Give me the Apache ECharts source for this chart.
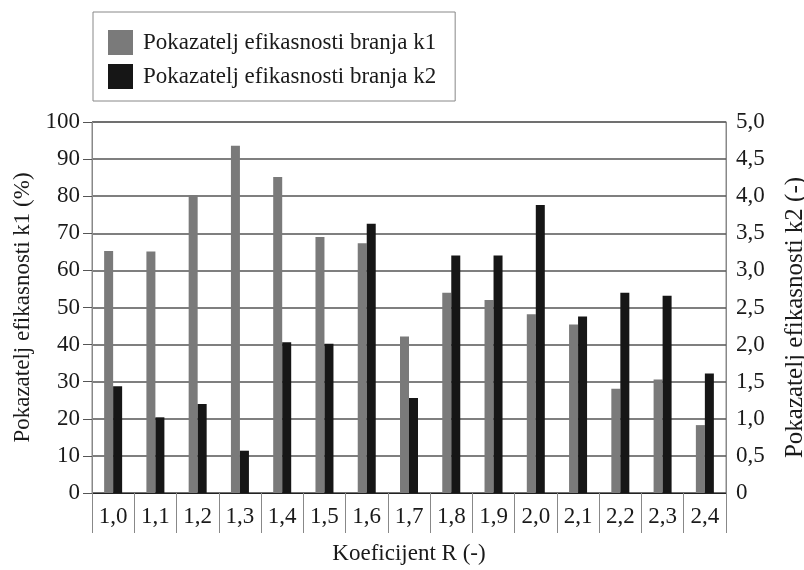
<!DOCTYPE html>
<html>
<head>
<meta charset="utf-8">
<script src="https://cdn.jsdelivr.net/npm/echarts@6/dist/echarts.min.js"></script>
<style>
  html, body { margin: 0; padding: 0; background: #fff; }
  #chart { width: 804px; height: 570px; }
</style>
</head>
<body>
<div id="chart"></div>
<script>
// kategorije (koeficijent R)
const categories = ['1,0', '1,1', '1,2', '1,3', '1,4', '1,5', '1,6', '1,7', '1,8', '1,9', '2,0', '2,1', '2,2', '2,3', '2,4'];
// k1 u %, lijeva os
const k1Values = [65.2, 65.1, 80.3, 93.6, 85.2, 69.0, 67.3, 42.2, 54.0, 52.0, 48.2, 45.4, 28.1, 30.6, 18.3];
// k2, desna os
const k2Values = [1.44, 1.02, 1.20, 0.57, 2.03, 2.01, 3.63, 1.28, 3.20, 3.20, 3.88, 2.38, 2.70, 2.66, 1.61];
const k1Name = 'Pokazatelj efikasnosti branja k1';
const k2Name = 'Pokazatelj efikasnosti branja k2';

(function () {
  const FONT = '"Liberation Serif", "Times New Roman", serif';
  const FS = 23;
  const TXT = '#1a1a1a';
  const chart = echarts.init(document.getElementById('chart'));

  const option = {
    backgroundColor: '#fff',
    animation: false,
    textStyle: { fontFamily: FONT, color: TXT },
    legend: {
      data: [k1Name, k2Name],
      orient: 'vertical',
      left: 93,
      top: 12,
      icon: 'rect',
      itemWidth: 25,
      itemHeight: 25,
      itemGap: 9,
      padding: [18, 19, 12, 15],
      borderColor: '#888',
      borderWidth: 1,
      textStyle: { fontFamily: FONT, fontSize: FS, color: TXT, padding: [0, 0, 0, 5] }
    },
    grid: {
      left: 92,
      right: 78,
      top: 122,
      bottom: 77,
      outerBoundsMode: 'none',
      containLabel: false,
      show: true,
      borderColor: '#888',
      borderWidth: 1
    },
    xAxis: {
      type: 'category',
      data: categories,
      name: 'Koeficijent R (-)',
      nameLocation: 'middle',
      nameGap: 49,
      nameTextStyle: { fontFamily: FONT, fontSize: FS, color: TXT },
      axisLine: { lineStyle: { color: '#222', width: 1 } },
      axisTick: { show: true, interval: 0, length: 40, lineStyle: { color: '#888' } },
      axisLabel: { interval: 0, margin: 12, fontFamily: FONT, fontSize: FS, color: TXT }
    },
    yAxis: [
      {
        type: 'value',
        min: 0,
        max: 100,
        interval: 10,
        name: 'Pokazatelj efikasnosti k1 (%)',
        nameLocation: 'middle',
        nameRotate: 90,
        nameGap: 51,
        nameTextStyle: { fontFamily: FONT, fontSize: FS, color: TXT },
        axisLine: { show: true, lineStyle: { color: '#888' } },
        axisTick: { show: true, length: 9, lineStyle: { color: '#555' } },
        axisLabel: { margin: 12, fontFamily: FONT, fontSize: FS, color: TXT },
        splitLine: { show: true, lineStyle: { color: '#555', width: 1.5 } }
      },
      {
        type: 'value',
        min: 0,
        max: 5,
        interval: 0.5,
        position: 'right',
        name: 'Pokazatelj efikasnosti k2 (-)',
        nameLocation: 'middle',
        nameRotate: 90,
        nameGap: 57,
        nameTextStyle: { fontFamily: FONT, fontSize: 25, color: TXT, padding: [0, 20, 0, 0] },
        axisLine: { show: true, lineStyle: { color: '#888' } },
        axisTick: { show: false },
        axisLabel: {
          margin: 10,
          fontFamily: FONT,
          fontSize: FS,
          color: TXT,
          formatter: function (v) {
            return v === 0 ? '0' : v.toFixed(1).replace('.', ',');
          }
        },
        splitLine: { show: false }
      }
    ],
    series: [
      {
        name: k1Name,
        type: 'bar',
        yAxisIndex: 0,
        data: k1Values,
        barWidth: 9,
        barGap: '0%',
        itemStyle: { color: '#7a7a7a' }
      },
      {
        name: k2Name,
        type: 'bar',
        yAxisIndex: 1,
        data: k2Values,
        barWidth: 9,
        barGap: '0%',
        itemStyle: { color: '#161616' }
      }
    ]
  };

  chart.setOption(option);
})();
</script>
</body>
</html>
